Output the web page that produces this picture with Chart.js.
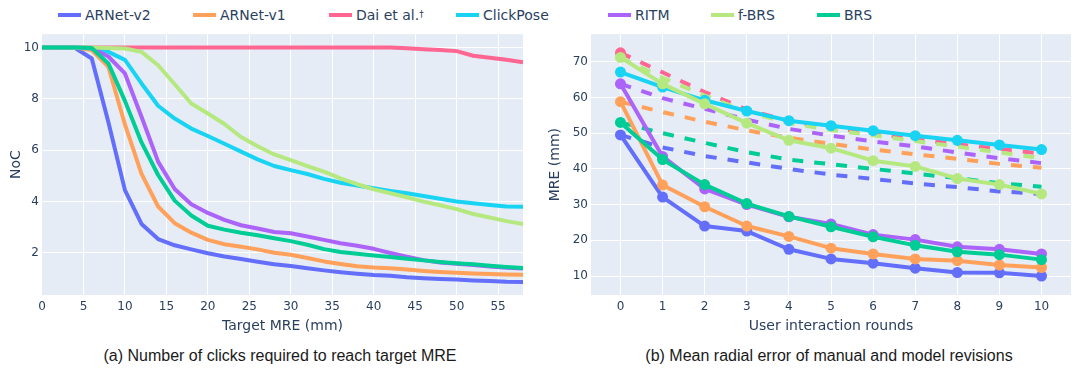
<!DOCTYPE html>
<html><head><meta charset="utf-8">
<script src="https://cdn.jsdelivr.net/npm/chart.js@4.4.1/dist/chart.umd.min.js"></script>
<style>
html,body{margin:0;padding:0;background:#fff;width:1080px;height:372px;overflow:hidden;}
#wrap{position:relative;width:1080px;height:372px;}
canvas{position:absolute;}
.item{position:absolute;top:6px;height:18px;display:flex;align-items:center;white-space:nowrap;font-family:"DejaVu Sans";font-size:14px;color:#2a3f5f;}
.sym{display:inline-block;width:23px;height:4px;margin-right:4px;}
.item sup{font-size:9px;line-height:0;position:relative;top:-1px;}
.cap{position:absolute;top:347px;line-height:18px;font-family:"Liberation Sans";font-size:16px;color:#1a1a1a;transform:translateX(-50%);white-space:nowrap;}
</style></head>
<body><div id="wrap">
<canvas id="c1" width="540" height="322" style="left:0;top:24px;width:540px;height:322px"></canvas>
<canvas id="c2" width="540" height="322" style="left:540px;top:24px;width:540px;height:322px"></canvas>
<div class="cap" style="left:280px">(a) Number of clicks required to reach target MRE</div>
<div class="cap" style="left:829px">(b) Mean radial error of manual and model revisions</div>
</div>
<script>
// ---------- DATA ----------
const methods = ["ARNet-v2", "ARNet-v1", "Dai et al.", "ClickPose", "RITM", "f-BRS", "BRS"];
const colors  = ["#636EFA", "#FFA15A", "#FF6692", "#19D3F3", "#AB63FA", "#B6E880", "#00CC96"];

// (a) NoC vs target MRE
const targetMRE = [0,2,4,6,8,10,12,14,16,18,20,22,24,26,28,30,32,34,36,38,40,42,44,46,48,50,52,54,56,58];
const nocARNetV2 = [10,10,9.98,9.57,7.1,4.44,3.12,2.53,2.29,2.13,1.98,1.85,1.75,1.65,1.55,1.48,1.39,1.31,1.24,1.18,1.13,1.1,1.04,1.0,0.97,0.95,0.92,0.9,0.87,0.86];
const nocARNetV1 = [10,10,10,9.9,9.25,7.0,5.07,3.8,3.15,2.78,2.5,2.33,2.23,2.13,2.0,1.92,1.79,1.66,1.56,1.47,1.42,1.39,1.34,1.29,1.25,1.22,1.19,1.17,1.15,1.14];
const nocDai     = [10,10,10,10,10,10,10,10,10,10,10,10,10,10,10,10,10,10,10,10,10,10,9.97,9.93,9.9,9.86,9.68,9.6,9.52,9.43];
const nocClickPose = [10,10,10,9.96,9.83,9.52,8.6,7.73,7.23,6.84,6.55,6.25,5.94,5.64,5.38,5.22,5.07,4.88,4.73,4.62,4.51,4.41,4.32,4.21,4.1,4.0,3.93,3.86,3.8,3.79];
const nocRITM    = [10,10,10,9.98,9.65,8.99,7.3,5.55,4.48,3.89,3.55,3.28,3.07,2.94,2.81,2.76,2.63,2.5,2.37,2.27,2.15,1.99,1.84,1.71,1.62,1.57,1.52,1.46,1.41,1.38];
const nocFBRS    = [10,10,10,10,9.98,9.96,9.83,9.31,8.57,7.82,7.43,7.02,6.51,6.15,5.83,5.61,5.38,5.16,4.9,4.67,4.47,4.32,4.16,3.99,3.85,3.7,3.51,3.37,3.23,3.12];
const nocBRS     = [10,10,10,9.98,9.38,7.92,6.3,5.03,4.03,3.45,3.05,2.9,2.78,2.68,2.56,2.45,2.31,2.14,2.03,1.96,1.89,1.83,1.76,1.7,1.64,1.59,1.55,1.49,1.44,1.4];

// (b) MRE vs user interaction rounds
const rounds = [0,1,2,3,4,5,6,7,8,9,10];
const mreARNetV2 = [49.5,32.1,24.0,22.6,17.5,14.8,13.6,12.2,11.0,10.9,10.0];
const mreARNetV1 = [58.8,35.5,29.4,24.0,21.1,17.8,16.2,14.8,14.3,13.1,12.4];
const mreDai     = [72.5];
const mreClickPose = [67.1,62.9,59.2,56.2,53.5,52.1,50.7,49.3,48.0,46.7,45.4];
const mreRITM    = [63.8,43.5,34.4,30.0,26.6,24.6,21.6,20.2,18.2,17.5,16.2];
const mreFBRS    = [71.2,63.8,58.2,52.8,48.0,45.8,42.3,40.7,37.3,35.6,33.0];
const mreBRS     = [53.0,42.6,35.6,30.3,26.7,23.8,21.0,18.6,16.8,16.0,14.6];
// manual revisions (dashed)
const manualARNetV2 = [49.5,46.0,43.6,41.8,40.0,38.4,37.2,35.9,34.9,33.7,33.0];
const manualARNetV1 = [58.8,55.9,53.2,50.8,48.7,47.0,45.4,44.1,42.8,41.4,40.3];
const manualDai     = [72.5,67.0,61.5,56.6,53.4,51.5,50.0,48.4,46.9,45.6,44.3];
const manualRITM    = [63.8,59.8,56.8,53.8,51.2,49.3,47.7,46.3,44.6,43.0,41.6];
const manualFBRS    = [71.2,65.5,60.5,56.0,52.8,50.9,49.4,47.8,46.2,44.6,43.0];
const manualBRS     = [53.0,50.0,47.3,44.7,42.6,41.3,40.0,38.7,37.4,36.0,35.0];

// ticks
const xTicksA = [0,5,10,15,20,25,30,35,40,45,50,55];
const yTicksA = [2,4,6,8,10];
const xTicksB = [0,1,2,3,4,5,6,7,8,9,10];
const yTicksB = [10,20,30,40,50,60,70];

// ---------- LEGEND ----------
const legendLeft = [58,193,329,456,608,711,817];
const wrap = document.getElementById('wrap');
methods.forEach((m,i)=>{
  const d = document.createElement('div');
  d.className = 'item';
  d.style.left = legendLeft[i] + 'px';
  const s = document.createElement('span');
  s.className = 'sym'; s.style.background = colors[i];
  d.appendChild(s);
  const t = document.createElement('span');
  t.textContent = m;
  d.appendChild(t);
  if (m === 'Dai et al.') { const sp = document.createElement('sup'); sp.textContent = '\u2020'; d.appendChild(sp); }
  wrap.appendChild(d);
});

// ---------- CHARTS ----------
const bgPlugin = {id:'bg', beforeDraw(chart){const {ctx,chartArea:a}=chart; ctx.save(); ctx.fillStyle='#E5ECF6'; ctx.fillRect(a.left,a.top,a.right-a.left,a.bottom-a.top); ctx.restore();}};
const tickFont = {family:'DejaVu Sans', size:12};
const titleFont = {family:'DejaVu Sans', size:14};
const TXT = '#2a3f5f';

function pts(xs, ys){ return ys.map((y,i)=>({x:xs[i], y:y})); }

function makeOptions(o){
  return {
    responsive:false, animation:false, devicePixelRatio:1,
    layout:{padding:{top:10,right:o.padRight,left:0,bottom:0}},
    plugins:{legend:{display:false}, tooltip:{enabled:false}},
    elements:{line:{tension:0, borderJoinStyle:'round'}},
    scales:{
      x:{type:'linear', min:o.xMin, max:o.xMax,
         afterBuildTicks:(s)=>{s.ticks=o.xTicks.map(v=>({value:v}));},
         afterFit:(s)=>{s.height=51;},
         ticks:{color:TXT, font:tickFont, padding:5, autoSkip:false, maxRotation:0},
         grid:{color:(c)=> (c.tick && c.tick.value===o.xMin) ? 'rgba(0,0,0,0)' : '#ffffff', lineWidth:1, drawTicks:false},
         border:{display:false},
         title:{display:true, text:o.xTitle, color:TXT, font:titleFont, padding:{top:0,bottom:11.6}}},
      y:{type:'linear', min:o.yMin, max:o.yMax,
         afterBuildTicks:(s)=>{s.ticks=o.yTicks.map(v=>({value:v}));},
         afterFit:(s)=>{s.width=o.yWidth;},
         ticks:{color:TXT, font:tickFont, padding:3, autoSkip:false},
         grid:{color:'#ffffff', lineWidth:1, drawTicks:false},
         border:{display:false},
         title:{display:true, text:o.yTitle, color:TXT, font:titleFont, padding:{top:o.yTitlePad,bottom:0}}}
    }
  };
}

const nocSeries = [nocARNetV2,nocARNetV1,nocDai,nocClickPose,nocRITM,nocFBRS,nocBRS];
new Chart(document.getElementById('c1'), {
  type:'line',
  data:{datasets: nocSeries.map((s,i)=>({
    label:methods[i], data:pts(targetMRE,s), borderColor:colors[i], backgroundColor:colors[i],
    borderWidth:4, pointRadius:0, fill:false, order:20-i
  }))},
  options: makeOptions({xMin:0,xMax:58,yMin:0.35,yMax:10.52,xTicks:xTicksA,yTicks:yTicksA,
    xTitle:'Target MRE (mm)', yTitle:'NoC', yWidth:42, padRight:17, yTitlePad:8}),
  plugins:[bgPlugin]
});

const mreSeries = [mreARNetV2,mreARNetV1,mreDai,mreClickPose,mreRITM,mreFBRS,mreBRS];
const manualSeries = [[manualARNetV2,0],[manualARNetV1,1],[manualDai,2],[manualRITM,4],[manualFBRS,5],[manualBRS,6]];
const dsB = [];
manualSeries.forEach(([s,ci],k)=>{
  dsB.push({label:methods[ci]+' manual', data:pts(rounds,s), borderColor:colors[ci], backgroundColor:colors[ci],
    borderWidth:4, borderDash:[11,11], pointRadius:0, fill:false, order:60-ci});
});
mreSeries.forEach((s,i)=>{
  dsB.push({label:methods[i], data:pts(rounds,s), borderColor:colors[i], backgroundColor:colors[i],
    borderWidth:4, pointRadius:5.5, pointBorderWidth:0, pointBackgroundColor:colors[i], fill:false, order:20-i});
});
new Chart(document.getElementById('c2'), {
  type:'line',
  data:{datasets:dsB},
  options: makeOptions({xMin:-0.7,xMax:10.7,yMin:4.7,yMax:77.7,xTicks:xTicksB,yTicks:yTicksB,
    xTitle:'User interaction rounds', yTitle:'MRE (mm)', yWidth:51, padRight:9, yTitlePad:7}),
  plugins:[bgPlugin]
});
</script>
</body></html>
